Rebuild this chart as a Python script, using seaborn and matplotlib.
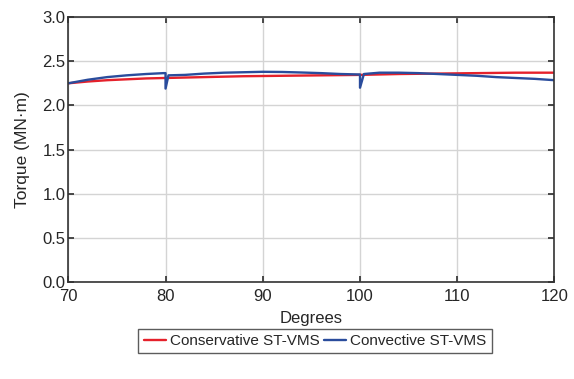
import matplotlib
matplotlib.use("Agg")
import matplotlib.pyplot as plt
import seaborn as sns
import pandas as pd
from matplotlib.lines import Line2D

sns.set_theme(style="whitegrid")
plt.rcParams['font.family'] = ['Liberation Sans', 'DejaVu Sans']

# Data
cons_deg = [70, 72, 74, 76, 78, 80, 84, 88, 92, 96, 100, 104, 108, 112, 116, 120]
cons_val = [2.25, 2.27, 2.285, 2.295, 2.305, 2.31, 2.32, 2.33, 2.335, 2.34, 2.345, 2.355, 2.36, 2.365, 2.37, 2.37]

conv_deg = [70, 72, 74, 76, 78, 79.8, 80, 80, 80.3, 82, 84, 86, 88, 90, 92, 94, 96, 98, 99.8, 100, 100, 100.4,
            102, 104, 106, 108, 110, 112, 114, 116, 118, 120]
conv_val = [2.25, 2.29, 2.32, 2.34, 2.355, 2.365, 2.365, 2.19, 2.34, 2.345, 2.36, 2.37, 2.375, 2.38, 2.378, 2.372,
            2.365, 2.355, 2.35, 2.35, 2.20, 2.355, 2.37, 2.37, 2.365, 2.355, 2.345, 2.335, 2.32, 2.31, 2.30, 2.285]

df = pd.concat([
    pd.DataFrame({"Degrees": cons_deg, "Torque": cons_val, "Method": "Conservative ST-VMS"}),
    pd.DataFrame({"Degrees": conv_deg, "Torque": conv_val, "Method": "Convective ST-VMS"}),
])

fig = plt.figure(figsize=(5.74, 3.79), dpi=100)
ax = fig.add_axes([0.119, 0.256, 0.847, 0.699])

palette = {"Conservative ST-VMS": "#e5212b", "Convective ST-VMS": "#2a4c9c"}
sns.lineplot(data=df, x="Degrees", y="Torque", hue="Method", palette=palette, sort=False,
             estimator=None, lw=1.7, ax=ax, legend=False)

ax.set_xlim(70, 120)
ax.set_ylim(0, 3.0)
ax.set_xticks([70, 80, 90, 100, 110, 120])
ax.set_yticks([0, 0.5, 1.0, 1.5, 2.0, 2.5, 3.0])
ax.set_yticklabels([f"{v:.1f}" for v in [0, 0.5, 1.0, 1.5, 2.0, 2.5, 3.0]])
ax.grid(True, color="#d4d4d4", lw=1.0)
for s in ax.spines.values():
    s.set_color("#333333")
    s.set_linewidth(1.2)
ax.tick_params(axis="both", direction="in", length=4, color="#333333", labelsize=12,
               top=True, right=True, left=True, bottom=True)
ax.tick_params(axis="y", pad=2)
ax.tick_params(axis="x", pad=5)
ax.set_xlabel("Degrees", fontsize=12, labelpad=5)
ax.set_ylabel("Torque (MN·m)", fontsize=12.5, labelpad=9)

handles = [Line2D([], [], color=palette[k], lw=1.7) for k in palette]
leg = fig.legend(handles, list(palette.keys()), loc="center", bbox_to_anchor=(0.549, 0.100), ncol=2,
                 fontsize=11, frameon=True, fancybox=False, edgecolor="#333333", handlelength=1.45,
                 columnspacing=0.27, handletextpad=0.27, borderpad=0.35, borderaxespad=0)
leg.get_frame().set_linewidth(1.0)

fig.savefig("out.png", dpi=100)
